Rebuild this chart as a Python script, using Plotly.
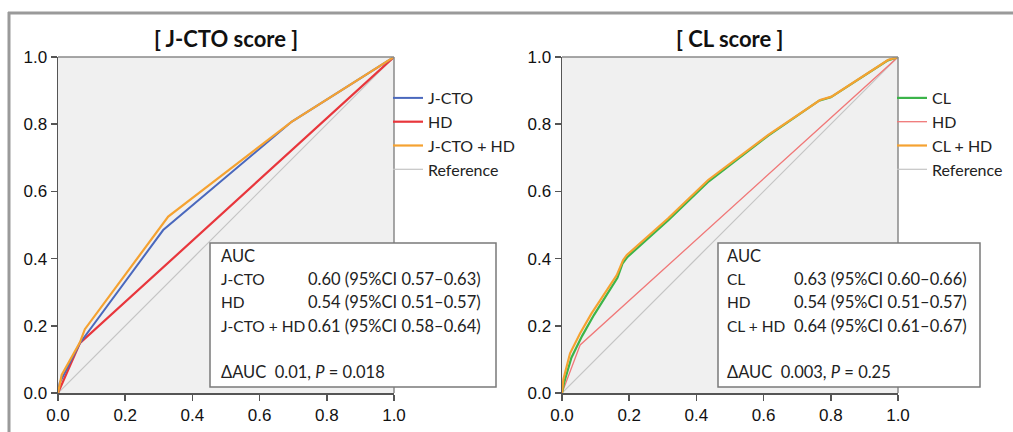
import plotly.graph_objects as go

W, H = 1013, 432

# ---------------- data ----------------
ref_x = [0, 1]
ref_y = [0, 1]

# Left panel: J-CTO score
jcto_fpr = [0, 0.005, 0.065, 0.313, 0.695, 1.0]
jcto_tpr = [0, 0.03, 0.148, 0.485, 0.807, 1.0]
hd_fpr = [0, 0.065, 1.0]
hd_tpr = [0, 0.148, 1.0]
jctohd_fpr = [0, 0.011, 0.065, 0.08, 0.328, 0.695, 1.0]
jctohd_tpr = [0, 0.054, 0.15, 0.19, 0.525, 0.807, 1.0]

# Right panel: CL score
cl_fpr = [0, 0.006, 0.028, 0.06, 0.095, 0.165, 0.18, 0.195, 0.318, 0.437, 0.614, 0.765, 0.8, 0.97, 1.0]
cl_tpr = [0, 0.03, 0.105, 0.17, 0.232, 0.343, 0.385, 0.405, 0.516, 0.63, 0.766, 0.87, 0.88, 0.99, 1.0]
hd2_fpr = [0, 0.054, 1.0]
hd2_tpr = [0, 0.143, 1.0]
clhd_fpr = [0, 0.004, 0.024, 0.054, 0.088, 0.163, 0.182, 0.193, 0.316, 0.435, 0.614, 0.768, 0.802, 0.97, 1.0]
clhd_tpr = [0, 0.04, 0.118, 0.178, 0.237, 0.351, 0.396, 0.411, 0.52, 0.634, 0.768, 0.872, 0.882, 0.991, 1.0]

titles = ["[ J-CTO score ]", "[ CL score ]"]
tick_vals = [0, 0.2, 0.4, 0.6, 0.8, 1.0]
tick_text = ["0.0", "0.2", "0.4", "0.6", "0.8", "1.0"]

auc_labels_left = ["AUC", "J-CTO", "HD", "J-CTO + HD"]
auc_values_left = ["", "0.60 (95%CI 0.57\u20130.63)", "0.54 (95%CI 0.51\u20130.57)", "0.61 (95%CI 0.58\u20130.64)"]
delta_left = "\u0394AUC  0.01, <i>P</i> = 0.018"
auc_labels_right = ["AUC", "CL", "HD", "CL + HD"]
auc_values_right = ["", "0.63 (95%CI 0.60\u20130.66)", "0.54 (95%CI 0.51\u20130.57)", "0.64 (95%CI 0.61\u20130.67)"]
delta_right = "\u0394AUC  0.003, <i>P</i> = 0.25"

# ---------------- styling ----------------
BLUE = "#4a68bd"
RED = "#e8363c"
RED2 = "#f07878"
ORANGE = "#f5a231"
GREEN = "#3cb44a"
GREY = "#c4c4c4"
TXT_FONT = "Lato, Carlito, Calibri, sans-serif"
TICK_FONT = "Liberation Sans, Arial, sans-serif"


def px(x):
    return x / W


def py(y):
    return 1 - y / H


fig = go.Figure()

left_traces = [
    ("J-CTO", jcto_fpr, jcto_tpr, BLUE, 2),
    ("HD", hd_fpr, hd_tpr, RED, 2.2),
    ("J-CTO + HD", jctohd_fpr, jctohd_tpr, ORANGE, 2.2),
    ("Reference", ref_x, ref_y, GREY, 1.2),
]
right_traces = [
    ("CL", cl_fpr, cl_tpr, GREEN, 2.2),
    ("HD", hd2_fpr, hd2_tpr, RED2, 1.3),
    ("CL + HD", clhd_fpr, clhd_tpr, ORANGE, 2.2),
    ("Reference", ref_x, ref_y, GREY, 1.2),
]

order = [3, 1, 0, 2]
for i in order:
    name, xs, ys, col, wdt = left_traces[i]
    fig.add_trace(go.Scatter(x=xs, y=ys, mode="lines", name=name,
                             line=dict(color=col, width=wdt),
                             xaxis="x", yaxis="y", legend="legend",
                             legendrank=i + 1, hoverinfo="skip"))
for i in order:
    name, xs, ys, col, wdt = right_traces[i]
    fig.add_trace(go.Scatter(x=xs, y=ys, mode="lines", name=name,
                             line=dict(color=col, width=wdt),
                             xaxis="x2", yaxis="y2", legend="legend2",
                             legendrank=i + 1, hoverinfo="skip"))

plot_top, plot_bot = 57, 393
doms = [(58, 394), (562, 898)]

axis_common = dict(
    range=[0, 1], tickvals=tick_vals, ticktext=tick_text, automargin=False,
    showgrid=False, zeroline=False, showline=True, linecolor="#555555",
    linewidth=1.5, ticks="outside", ticklen=6, tickwidth=1.5, tickcolor="#555555",
    tickfont=dict(family=TICK_FONT, size=17, color="#111111"), fixedrange=True,
)

legend_font = dict(family=TXT_FONT, size=16, color="#222222")
fig.update_layout(
    width=W, height=H,
    margin=dict(l=0, r=0, t=0, b=0, autoexpand=False),
    paper_bgcolor="white",
    plot_bgcolor="#f0f0f0",
    showlegend=True,
    xaxis=dict(domain=[px(doms[0][0]), px(doms[0][1])], anchor="y", **axis_common),
    yaxis=dict(domain=[py(plot_bot), py(plot_top)], anchor="x", **axis_common),
    xaxis2=dict(domain=[px(doms[1][0]), px(doms[1][1])], anchor="y2", **axis_common),
    yaxis2=dict(domain=[py(plot_bot), py(plot_top)], anchor="x2", **axis_common),
    legend=dict(x=px(388), y=py(81), xanchor="left", yanchor="top",
                bgcolor="rgba(0,0,0,0)", font=legend_font,
                tracegroupgap=0, itemwidth=30, traceorder="normal"),
    legend2=dict(x=px(892), y=py(81), xanchor="left", yanchor="top",
                 bgcolor="rgba(0,0,0,0)", font=legend_font,
                 tracegroupgap=0, itemwidth=30, traceorder="normal"),
)

shapes = []
# outer frame (top and left edges)
shapes.append(dict(type="line", xref="paper", yref="paper", x0=px(8), x1=px(W + 5),
                   y0=py(13), y1=py(13), line=dict(color="#9a9a9a", width=3)))
shapes.append(dict(type="line", xref="paper", yref="paper", x0=px(9), x1=px(9),
                   y0=py(12), y1=py(H + 5), line=dict(color="#9a9a9a", width=3)))
# plot frames top/right
for xr, yr in [("x", "y"), ("x2", "y2")]:
    shapes.append(dict(type="line", xref=xr + " domain", yref=yr + " domain",
                       x0=0, x1=1, y0=1, y1=1, line=dict(color="#8a8a8a", width=1.5)))
    shapes.append(dict(type="line", xref=xr + " domain", yref=yr + " domain",
                       x0=1, x1=1, y0=0, y1=1, line=dict(color="#8a8a8a", width=1.5)))
# AUC boxes
boxes = [(210, 243, 496, 387), (718, 243, 980, 387)]
for (x0, y0, x1, y1) in boxes:
    shapes.append(dict(type="rect", xref="paper", yref="paper", x0=px(x0), x1=px(x1),
                       y0=py(y0), y1=py(y1), line=dict(color="#7a7a7a", width=1.5),
                       fillcolor="white", layer="above"))
fig.update_layout(shapes=shapes)

ann = []
for t, (a, b) in zip(titles, doms):
    ann.append(dict(text="<b>" + t + "</b>", x=px((a + b) / 2), y=py(38), xref="paper", yref="paper",
                    showarrow=False, xanchor="center", yanchor="middle",
                    font=dict(family=TXT_FONT, size=22, color="#111111")))

line_ys = [256, 279, 302, 326]
lab_font = dict(family=TXT_FONT, size=15.5, color="#222222")
val_font = dict(family=TXT_FONT, size=16.5, color="#222222")
for labels, values, delta, lx, vx in [
    (auc_labels_left, auc_values_left, delta_left, 219, 306),
    (auc_labels_right, auc_values_right, delta_right, 725, 792),
]:
    for lab, val, yy in zip(labels, values, line_ys):
        ann.append(dict(text=lab, x=px(lx), y=py(yy), xref="paper", yref="paper",
                        showarrow=False, xanchor="left", yanchor="middle",
                        font=val_font if lab == "AUC" else lab_font))
        if val:
            ann.append(dict(text=val, x=px(vx), y=py(yy), xref="paper", yref="paper",
                            showarrow=False, xanchor="left", yanchor="middle", font=val_font))
    ann.append(dict(text=delta, x=px(lx), y=py(372), xref="paper", yref="paper",
                    showarrow=False, xanchor="left", yanchor="middle", font=val_font))
fig.update_layout(annotations=ann)

fig.write_html("out.html", config={"displayModeBar": False, "staticPlot": True},
               post_script="document.body.style.margin='0px';")
